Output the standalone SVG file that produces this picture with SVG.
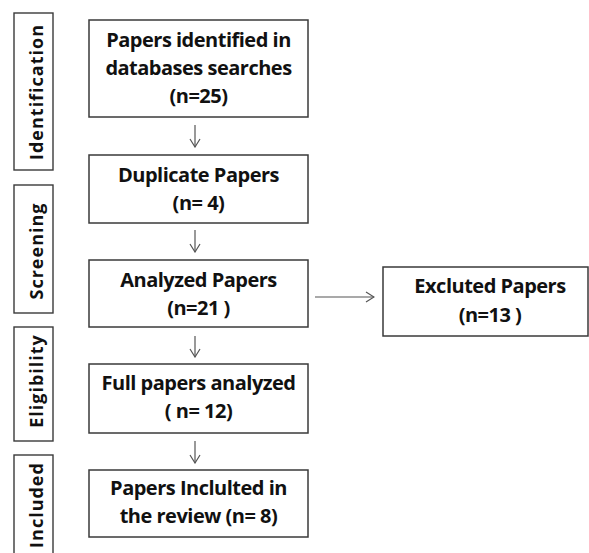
<svg xmlns="http://www.w3.org/2000/svg" width="589" height="553" viewBox="0 0 589 553">
<style>
.box{fill:#fff;stroke:#3a3a3a;stroke-width:1.5}
.side{fill:#fff;stroke:#3a3a3a;stroke-width:1.4}
.t{font-family:"Open Sans","Liberation Sans",sans-serif;font-weight:700;font-size:20px;fill:#111;text-anchor:middle;letter-spacing:-0.5px}
.s{font-family:"Open Sans","Liberation Sans",sans-serif;font-weight:700;font-size:18px;fill:#111;text-anchor:middle;letter-spacing:1px}
.c{fill:none;stroke:#555;stroke-width:1.2}
</style>
<defs>
<marker id="ah" viewBox="0 0 10 12" refX="9" refY="6" markerWidth="10" markerHeight="12" markerUnits="userSpaceOnUse" orient="auto">
<path d="M1,1 L9,6 L1,11" fill="none" stroke="#555" stroke-width="1.2"/>
</marker>
</defs>
<rect width="589" height="553" fill="#fff"/>
<g id="stage-identification"><rect class="side" x="14" y="13" width="39" height="157"/><text class="s" transform="translate(33.5,92) rotate(-90)" y="9.5">Identification</text></g>
<g id="stage-screening"><rect class="side" x="14" y="185" width="39" height="128"/><text class="s" transform="translate(33.5,251) rotate(-90)" y="9.5">Screening</text></g>
<g id="stage-eligibility"><rect class="side" x="14" y="327" width="39" height="114"/><text class="s" transform="translate(33.5,381) rotate(-90)" y="9.5">Eligibility</text></g>
<g id="stage-included"><rect class="side" x="14" y="455" width="39" height="110"/><text class="s" transform="translate(33.5,505) rotate(-90)" y="9.5">Included</text></g>
<g id="identified"><rect class="box" x="89" y="20" width="219" height="97"/><text class="t" x="198.5" y="47">Papers identified in</text><text class="t" x="198.5" y="75">databases searches</text><text class="t" x="198.5" y="103">(n=25)</text></g>
<g id="duplicate"><rect class="box" x="89" y="155" width="219" height="68"/><text class="t" x="198.5" y="182">Duplicate Papers</text><text class="t" x="198.5" y="210">(n= 4)</text></g>
<g id="analyzed"><rect class="box" x="89" y="260" width="219" height="67"/><text class="t" x="198.5" y="287">Analyzed Papers</text><text class="t" x="198.5" y="315">(n=21 )</text></g>
<g id="excluted"><rect class="box" x="383" y="267" width="205" height="69"/><text class="t" x="490" y="293">Excluted Papers</text><text class="t" x="490" y="322">(n=13 )</text></g>
<g id="full"><rect class="box" x="89" y="364" width="219" height="69"/><text class="t" x="198.5" y="390">Full papers analyzed</text><text class="t" x="198.5" y="418">( n= 12)</text></g>
<g id="included"><rect class="box" x="89" y="470" width="219" height="67"/><text class="t" x="198.5" y="495">Papers Inclulted in</text><text class="t" x="198.5" y="523">the review (n= 8)</text></g>
<g id="connectors">
<line class="c" x1="195" y1="125" x2="195" y2="147" marker-end="url(#ah)"/>
<line class="c" x1="195" y1="230" x2="195" y2="252" marker-end="url(#ah)"/>
<line class="c" x1="195" y1="336" x2="195" y2="357" marker-end="url(#ah)"/>
<line class="c" x1="195" y1="441" x2="195" y2="463" marker-end="url(#ah)"/>
<line class="c" x1="315" y1="297" x2="374" y2="297" marker-end="url(#ah)"/>
</g>
</svg>
